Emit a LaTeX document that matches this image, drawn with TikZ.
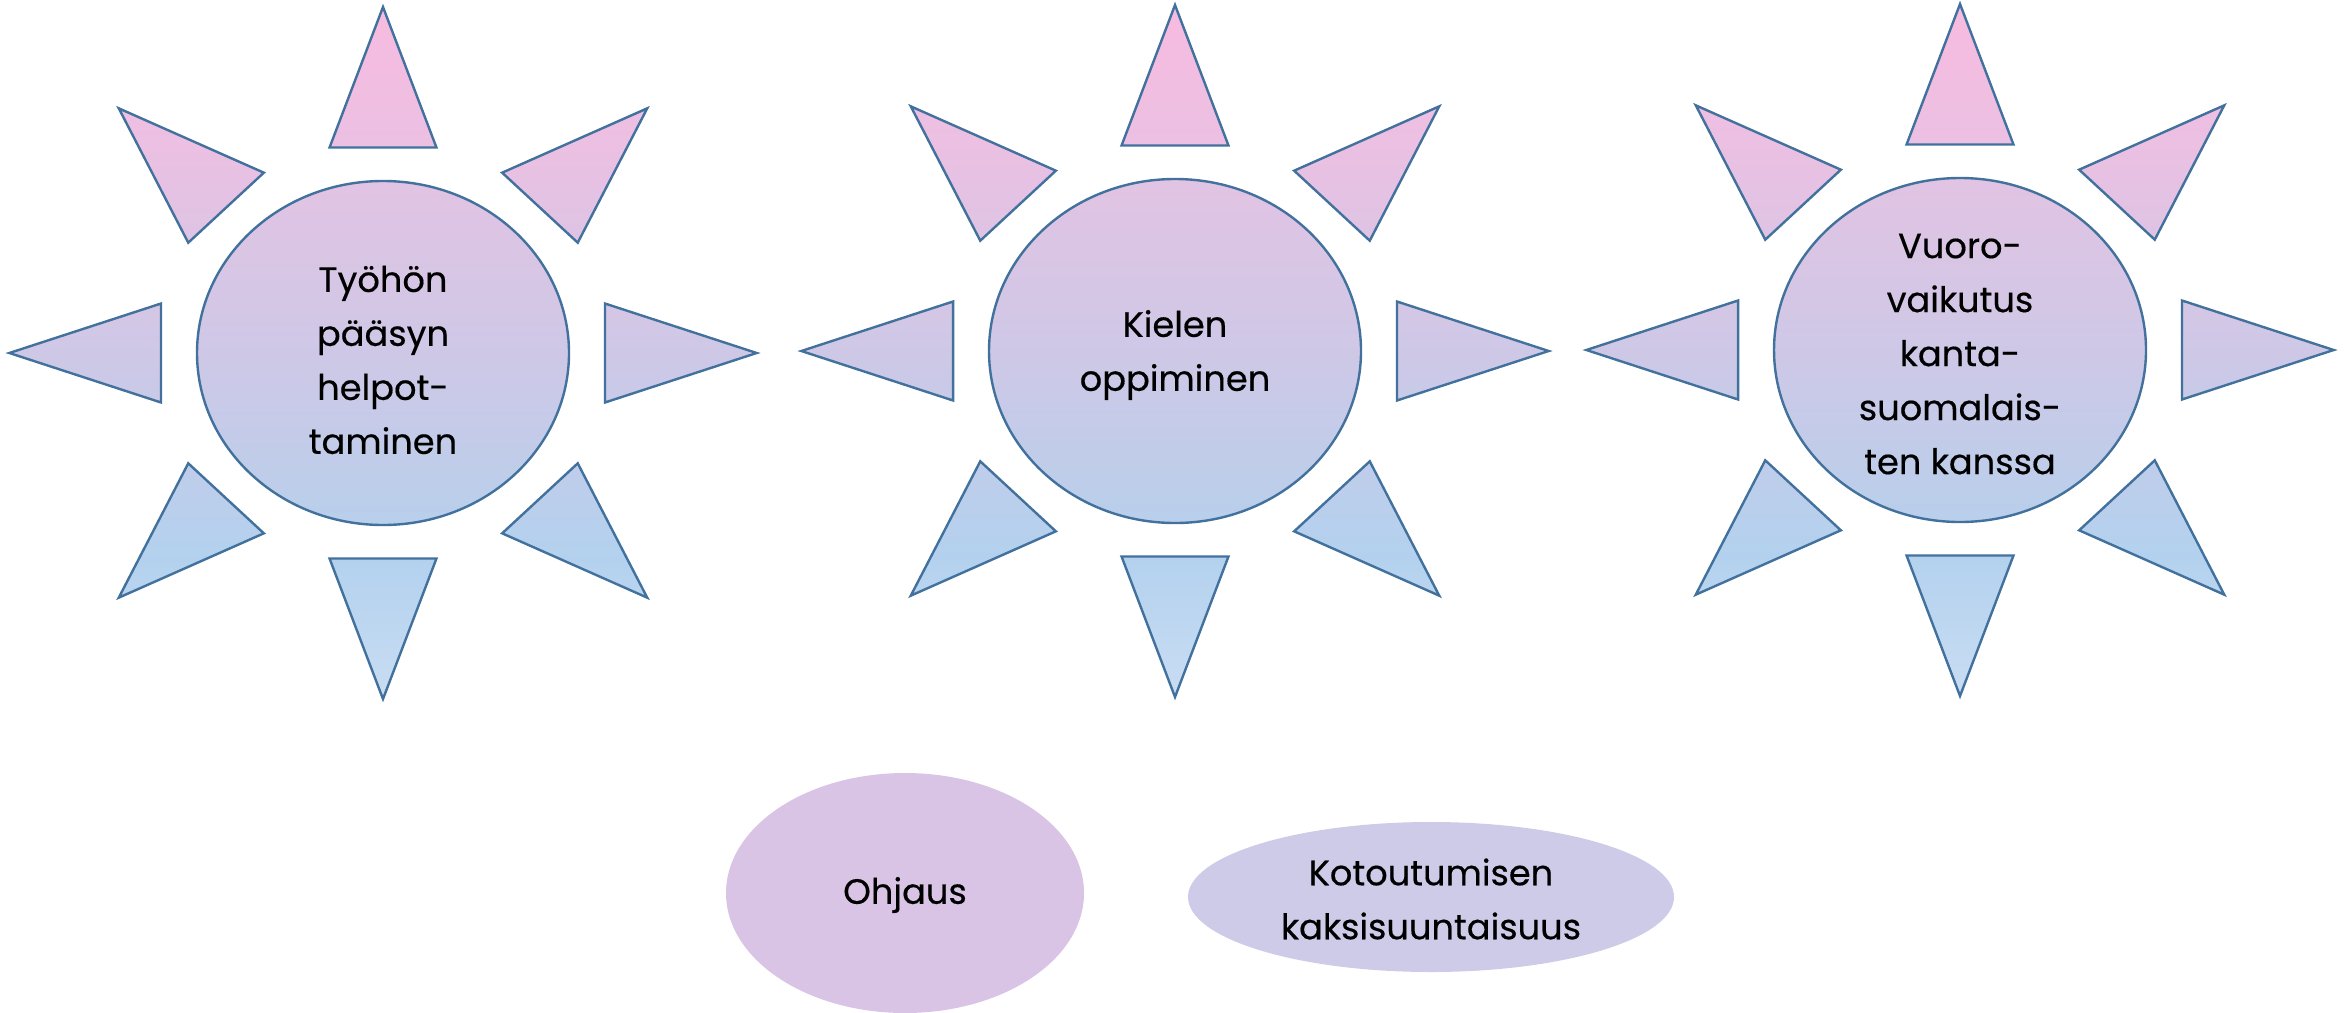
\documentclass[tikz,border=0pt]{standalone}
\usepackage{fontspec}
\setmainfont[FakeBold=0.4]{Poppins}
\usetikzlibrary{shapes.geometric}
\definecolor{edge}{HTML}{41719C}
\definecolor{rB0}{HTML}{C9DDF3}
\definecolor{rB1}{HTML}{B3D1EE}
\definecolor{rM}{HTML}{CEC8E6}
\definecolor{rP1}{HTML}{EBC0E2}
\definecolor{rP0}{HTML}{F7BBE0}
\definecolor{hubtop}{HTML}{E2C3E3}
\definecolor{hubbot}{HTML}{B8CFEB}
\definecolor{ohj}{HTML}{D9C4E6}
\definecolor{kot}{HTML}{CDCBE7}
\pgfdeclareverticalshading{raygrad}{100bp}{color(0bp)=(rB0); color(25bp)=(rB0); color(35.2bp)=(rB1); color(50bp)=(rM); color(64.8bp)=(rP1); color(75bp)=(rP0); color(100bp)=(rP0)}
\tikzset{
  ray/.style={shading=raygrad, draw=edge, line width=1.2pt, line join=miter},
  hub/.style={ellipse, draw=edge, line width=1.2pt, top color=hubtop, bottom color=hubbot, middle color=rM, minimum width=186pt, minimum height=172pt, inner sep=0pt},
  hubtext/.style={align=center, font=\fontsize{17.6pt}{27pt}\selectfont, inner sep=0pt},
  blob/.style={ellipse, draw=none, inner sep=0pt},
}
\newcommand{\sunrays}[2]{%
  \shadedraw[ray, shift={(#1,#2)}, xscale=1.08]
    foreach \a in {0,45,...,315} {(\a:346) -- (\a+13.54:211.4) -- (\a-13.54:211.4) -- cycle};
}
\begin{document}
\begin{tikzpicture}[x=0.5pt, y=-0.5pt]
\useasboundingbox (0,0) rectangle (2348,1012);
% sun 1
\sunrays{383}{353}
\node[hub] (h1) at (383,353) {};
\node[hubtext] (t1) at (383,360) {Työhön\\pääsyn\\helpot-\\taminen};
% sun 2
\sunrays{1175}{351}
\node[hub] (h2) at (1175,351) {};
\node[hubtext] (t2) at (1175,355) {Kielen\\oppiminen};
% sun 3
\sunrays{1960}{350}
\node[hub] (h3) at (1960,350) {};
\node[hubtext] (t3) at (1960,354) {Vuoro-\\vaikutus\\kanta-\\suomalais-\\ten kanssa};
% bottom
\node[blob, fill=ohj, minimum width=179pt, minimum height=120pt] (o) at (905,893) {};
\node[hubtext] (ot) at (905,895) {Ohjaus};
\node[blob, fill=kot, minimum width=243pt, minimum height=75pt] (k) at (1431,897) {};
\node[hubtext] (kt) at (1431,899) {Kotoutumisen\\kaksisuuntaisuus};
\end{tikzpicture}
\end{document}
